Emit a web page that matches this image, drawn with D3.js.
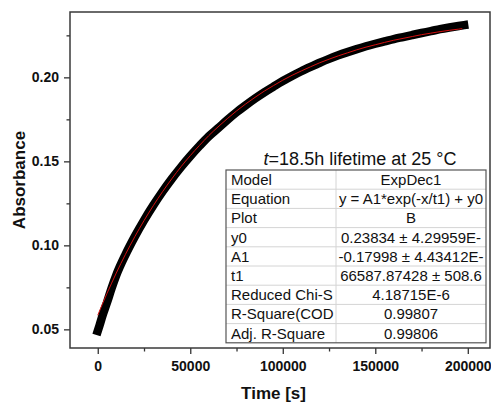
<!DOCTYPE html>
<html>
<head>
<meta charset="utf-8">
<script src="https://cdn.jsdelivr.net/npm/d3@7"></script>
<style>
  html, body { margin: 0; padding: 0; background: #fff; }
  svg { display: block; font-family: "Liberation Sans", Arial, sans-serif; }
</style>
</head>
<body>
<div class="chart"></div>
<script>
var timeData = [0, 1000, 2500, 5000, 7500, 10000, 15000, 20000, 25000, 30000, 35000, 40000,
  45000, 50000, 55000, 60000, 65000, 70000, 75000, 80000, 85000, 90000, 95000, 100000,
  105000, 110000, 115000, 120000, 125000, 130000, 135000, 140000, 145000, 150000, 155000,
  160000, 165000, 170000, 175000, 180000, 185000, 190000, 195000, 198000];
var absData = [0.0490, 0.0525, 0.0580, 0.0660, 0.0745, 0.0822, 0.0945, 0.1052, 0.1149, 0.1238, 0.1320, 0.1396,
  0.1466, 0.1531, 0.1592, 0.1649, 0.1697, 0.1746, 0.1792, 0.1834, 0.1874, 0.1911, 0.1945, 0.1978,
  0.2008, 0.2036, 0.2062, 0.2087, 0.2110, 0.2131, 0.2150, 0.2168, 0.2185, 0.2200, 0.2214,
  0.2228, 0.2240, 0.2252, 0.2264, 0.2275, 0.2287, 0.2297, 0.2306, 0.2311];

// ExpDec1 fit curve
var fitTime = [0, 2500, 5000, 7500, 10000, 15000, 20000, 25000, 30000, 35000, 40000, 45000,
  50000, 55000, 60000, 65000, 70000, 75000, 80000, 85000, 90000, 95000, 100000, 105000,
  110000, 115000, 120000, 125000, 130000, 135000, 140000, 145000, 150000, 155000, 160000,
  165000, 170000, 175000, 180000, 185000, 190000, 195000, 197000];
var fitAbs = [0.0584, 0.0650, 0.0714, 0.0775, 0.0835, 0.0947, 0.1051, 0.1147, 0.1236, 0.1319, 0.1396, 0.1468,
  0.1534, 0.1595, 0.1653, 0.1705, 0.1754, 0.1800, 0.1842, 0.1881, 0.1918, 0.1951, 0.1983, 0.2012,
  0.2038, 0.2063, 0.2087, 0.2108, 0.2128, 0.2146, 0.2164, 0.2180, 0.2194, 0.2208, 0.2221,
  0.2232, 0.2243, 0.2254, 0.2263, 0.2272, 0.2280, 0.2287, 0.2290];

var xTicks = [0, 50000, 100000, 150000, 200000],
    xMinor = [25000, 75000, 125000, 175000],
    yTicks = [0.05, 0.10, 0.15, 0.20],
    yMinor = [0.075, 0.125, 0.175, 0.225];

var tableTitle = ["t", "=18.5h lifetime at 25 °C"];
var tableKeys = ["Model", "Equation", "Plot", "y0", "A1", "t1", "Reduced Chi-S", "R-Square(COD", "Adj. R-Square"];
var tableVals = ["ExpDec1", "y = A1*exp(-x/t1) + y0", "B", "0.23834 ± 4.29959E-", "-0.17998 ± 4.43412E-",
  "66587.87428 ± 508.6", "4.18715E-6", "0.99807", "0.99806"];

var W = 491, H = 403,
    margin = {top: 12, right: 1, bottom: 55, left: 70},
    width = W - margin.left - margin.right,
    height = H - margin.top - margin.bottom;

var svg = d3.select(".chart").append("svg")
  .attr("width", W)
  .attr("height", H);

var g = svg.append("g")
  .attr("transform", `translate(${margin.left}, ${margin.top})`);

var x = d3.scaleLinear().domain([-15000, 212000]).range([0, width]);
var y = d3.scaleLinear().domain([0.0389, 0.2389]).range([height, 0]);

// minor ticks
g.append("g")
  .attr("transform", `translate(0, ${height})`)
  .call(d3.axisBottom(x).tickValues(xMinor).tickSize(3.5).tickSizeOuter(0).tickFormat(""))
  .call(a => a.select(".domain").remove());
g.append("g")
  .call(d3.axisLeft(y).tickValues(yMinor).tickSize(3.5).tickSizeOuter(0).tickFormat(""))
  .call(a => a.select(".domain").remove());

// major ticks
var xAxis = g.append("g")
  .attr("transform", `translate(0, ${height})`)
  .call(d3.axisBottom(x).tickValues(xTicks).tickSize(6).tickSizeOuter(0).tickPadding(7).tickFormat(d3.format("d")));
xAxis.select(".domain").remove();

var yAxis = g.append("g")
  .call(d3.axisLeft(y).tickValues(yTicks).tickSize(6).tickSizeOuter(0).tickPadding(5).tickFormat(d3.format(".2f")));
yAxis.select(".domain").remove();

g.selectAll(".tick line").attr("stroke", "#333").attr("stroke-width", 1.3);
g.selectAll(".tick text")
  .attr("fill", "#111")
  .style("font-family", "'Liberation Sans', Arial, sans-serif")
  .style("font-size", "14px")
  .style("font-weight", "bold");

// data band
var line = d3.line()
  .x((d, i) => x(timeData[i]))
  .y(d => y(d))
  .curve(d3.curveMonotoneX);

g.append("path")
  .datum(absData)
  .attr("fill", "none")
  .attr("stroke", "#000")
  .attr("stroke-width", 8.5)
  .attr("stroke-linejoin", "round")
  .attr("stroke-linecap", "square")
  .attr("d", line);

// fit curve
var fitLine = d3.line()
  .x((d, i) => x(fitTime[i]))
  .y(d => y(d))
  .curve(d3.curveMonotoneX);

g.append("path")
  .datum(fitAbs)
  .attr("fill", "none")
  .attr("stroke", "#d41010")
  .attr("stroke-width", 1)
  .attr("d", fitLine);

// fit results table
var tbl = {left: 226, top: 170, right: 486, split: 336, row: 19.2};
var tg = svg.append("g").style("font-size", "15px").attr("fill", "#111");

tg.append("rect")
  .attr("x", tbl.left)
  .attr("y", tbl.top)
  .attr("width", tbl.right - tbl.left)
  .attr("height", tbl.row * tableKeys.length)
  .attr("fill", "#fff");

tg.selectAll("line.row")
  .data(d3.range(1, tableKeys.length))
  .enter().append("line")
  .attr("class", "row")
  .attr("x1", tbl.left).attr("x2", tbl.right)
  .attr("y1", i => tbl.top + i * tbl.row)
  .attr("y2", i => tbl.top + i * tbl.row)
  .attr("stroke", "#d4d4d4");

tg.append("line")
  .attr("x1", tbl.split).attr("x2", tbl.split)
  .attr("y1", tbl.top).attr("y2", tbl.top + tbl.row * tableKeys.length)
  .attr("stroke", "#d4d4d4");

tg.append("rect")
  .attr("x", tbl.left)
  .attr("y", tbl.top)
  .attr("width", tbl.right - tbl.left)
  .attr("height", tbl.row * tableKeys.length)
  .attr("fill", "none")
  .attr("stroke", "#555")
  .attr("stroke-width", 1.2);

tg.append("clipPath").attr("id", "keyclip")
  .append("rect")
  .attr("x", tbl.left).attr("y", tbl.top)
  .attr("width", tbl.split - tbl.left - 1)
  .attr("height", tbl.row * tableKeys.length);

tg.append("g").attr("clip-path", "url(#keyclip)")
  .selectAll("text")
  .data(tableKeys)
  .enter().append("text")
  .attr("x", tbl.left + 5)
  .attr("y", (d, i) => tbl.top + (i + 0.5) * tbl.row + 5.3)
  .text(d => d);

tg.selectAll("text.val")
  .data(tableVals)
  .enter().append("text")
  .attr("class", "val")
  .attr("x", (tbl.split + tbl.right) / 2)
  .attr("y", (d, i) => tbl.top + (i + 0.5) * tbl.row + 5.3)
  .attr("text-anchor", "middle")
  .text(d => d);

var title = svg.append("text")
  .attr("x", (tbl.left + tbl.right) / 2 + 4)
  .attr("y", 165)
  .attr("text-anchor", "middle")
  .attr("fill", "#111")
  .style("font-size", "18px");
title.append("tspan").style("font-style", "italic").text(tableTitle[0]);
title.append("tspan").text(tableTitle[1]);

// frame
g.append("rect")
  .attr("width", width)
  .attr("height", height)
  .attr("fill", "none")
  .attr("stroke", "#3a3a3a")
  .attr("stroke-width", 1.5);

// axis titles
svg.append("text")
  .attr("x", margin.left + x(95000))
  .attr("y", 399)
  .attr("text-anchor", "middle")
  .attr("fill", "#111")
  .style("font-size", "17px")
  .style("font-weight", "bold")
  .text("Time [s]");

svg.append("text")
  .attr("transform", "translate(25, 180) rotate(-90)")
  .attr("text-anchor", "middle")
  .attr("fill", "#111")
  .style("font-size", "17px")
  .style("font-weight", "bold")
  .text("Absorbance");
</script>
</body>
</html>
